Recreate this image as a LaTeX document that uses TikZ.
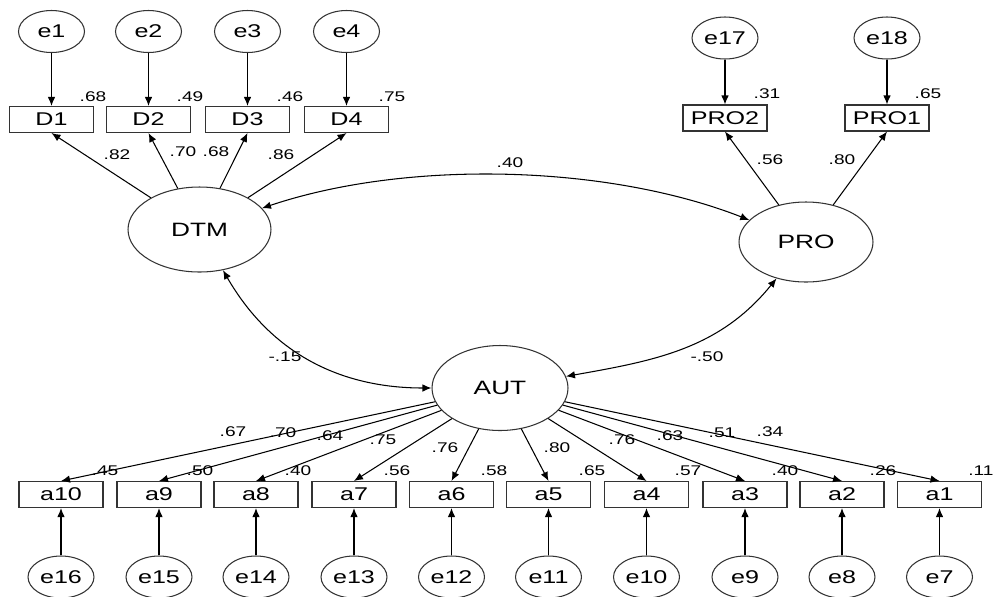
\documentclass[tikz,border=0pt]{standalone}
\usepackage{fontspec}
\setmainfont{Liberation Sans}[FakeStretch=1.36]
\usetikzlibrary{shapes.geometric,arrows.meta}

\begin{document}
\begin{tikzpicture}[x=0.02cm,y=0.02cm,->,>={Latex[length=1.8mm,width=1.5mm]},line width=0.6pt,
	err/.style={draw=black!80,ellipse,inner sep=0pt,minimum width=1.32cm,minimum height=0.84cm,font=\fontsize{10.5}{12}\selectfont},
	obs/.style={draw=black!80,rectangle,inner sep=0pt,minimum width=1.68cm,minimum height=0.52cm,font=\fontsize{10.5}{12}\selectfont},
	lat/.style={draw=black!80,ellipse,inner sep=0pt,font=\fontsize{11}{13}\selectfont},
	num/.style={inner sep=0pt,font=\fontsize{8}{9}\selectfont}]
		\useasboundingbox (0,0) rectangle (994,-596);
		\node[lat,minimum width=2.86cm,minimum height=1.7cm] (DTM) at (199.5,-229.5) {DTM};
		\node[lat,minimum width=2.68cm,minimum height=1.6cm] (PRO) at (806,-242) {PRO};
		\node[lat,minimum width=2.72cm,minimum height=1.7cm] (AUT) at (500,-388) {AUT};
		\node[err] (e1) at (51.5,-31.5) {e1};
		\node[err] (e2) at (148.5,-31.5) {e2};
		\node[err] (e3) at (247.5,-31.5) {e3};
		\node[err] (e4) at (346.5,-31.5) {e4};
		\node[obs] (D1) at (51.5,-119.5) {D1};
		\node[obs] (D2) at (148.5,-119.5) {D2};
		\node[obs] (D3) at (247.5,-119.5) {D3};
		\node[obs] (D4) at (346.5,-119.5) {D4};
		\node[err] (e17) at (725,-38) {e17};
		\node[err] (e18) at (887,-38) {e18};
		\node[obs] (PRO2) at (725,-118) {PRO2};
		\node[obs] (PRO1) at (887,-118) {PRO1};
		\node[obs] (a10) at (61,-494.5) {a10};
		\node[obs] (a9) at (159,-494.5) {a9};
		\node[obs] (a8) at (256,-494.5) {a8};
		\node[obs] (a7) at (354,-494.5) {a7};
		\node[obs] (a6) at (451.5,-494.5) {a6};
		\node[obs] (a5) at (548.5,-494.5) {a5};
		\node[obs] (a4) at (646.5,-494.5) {a4};
		\node[obs] (a3) at (745,-494.5) {a3};
		\node[obs] (a2) at (842,-494.5) {a2};
		\node[obs] (a1) at (939.5,-494.5) {a1};
		\node[err] (e16) at (61,-577) {e16};
		\node[err] (e15) at (159,-577) {e15};
		\node[err] (e14) at (256,-577) {e14};
		\node[err] (e13) at (354,-577) {e13};
		\node[err] (e12) at (451.5,-577) {e12};
		\node[err] (e11) at (548.5,-577) {e11};
		\node[err] (e10) at (646.5,-577) {e10};
		\node[err] (e9) at (745,-577) {e9};
		\node[err] (e8) at (842,-577) {e8};
		\node[err] (e7) at (939.5,-577) {e7};
		\draw (e1) -- (D1);
		\draw (e2) -- (D2);
		\draw (e3) -- (D3);
		\draw (e4) -- (D4);
		\draw (DTM) -- (D1.south);
		\draw (DTM) -- (D2.south);
		\draw (DTM) -- (D3.south);
		\draw (DTM) -- (D4.south);
		\draw (e17) -- (PRO2);
		\draw (e18) -- (PRO1);
		\draw (PRO) -- (PRO2.south);
		\draw (PRO) -- (PRO1.south);
		\draw (AUT) -- (a10.north);
		\draw (AUT) -- (a9.north);
		\draw (AUT) -- (a8.north);
		\draw (AUT) -- (a7.north);
		\draw (AUT) -- (a6.north);
		\draw (AUT) -- (a5.north);
		\draw (AUT) -- (a4.north);
		\draw (AUT) -- (a3.north);
		\draw (AUT) -- (a2.north);
		\draw (AUT) -- (a1.north);
		\draw (e16) -- (a10);
		\draw (e15) -- (a9);
		\draw (e14) -- (a8);
		\draw (e13) -- (a7);
		\draw (e12) -- (a6);
		\draw (e11) -- (a5);
		\draw (e10) -- (a4);
		\draw (e9) -- (a3);
		\draw (e8) -- (a2);
		\draw (e7) -- (a1);
		\draw[<->] (DTM) to[bend left=20,looseness=0.8] (PRO);
		\draw[<->] (DTM) to[out=-60,in=180] (AUT);
		\draw[<->] (PRO) to[out=-129,in=10] (AUT);
		\node[num] (rD1) at (93,-97) {.68};
		\node[num] (rD2) at (190,-97) {.49};
		\node[num] (rD3) at (290,-97) {.46};
		\node[num] (rD4) at (392,-97) {.75};
		\node[num] (lD1) at (117,-155) {.82};
		\node[num] (lD2) at (183,-152) {.70};
		\node[num] (lD3) at (216,-152) {.68};
		\node[num] (lD4) at (281,-155) {.86};
		\node[num] (rP2) at (767,-94) {.31};
		\node[num] (rP1) at (928,-94) {.65};
		\node[num] (lP2) at (770,-160) {.56};
		\node[num] (lP1) at (842,-160) {.80};
		\node[num] (cDP) at (510,-163) {.40};
		\node[num] (cDA) at (285,-357) {-.15};
		\node[num] (cPA) at (707,-357) {-.50};
		\node[num] (la10) at (233,-432) {.67};
		\node[num] (la9) at (283,-433) {.70};
		\node[num] (la8) at (330,-436) {.64};
		\node[num] (la7) at (383,-440) {.75};
		\node[num] (la6) at (445,-448) {.76};
		\node[num] (la5) at (557,-448) {.80};
		\node[num] (la4) at (622,-440) {.76};
		\node[num] (la3) at (670,-436) {.63};
		\node[num] (la2) at (722,-433) {.51};
		\node[num] (la1) at (770,-432) {.34};
		\node[num] (ra10) at (105,-471) {.45};
		\node[num] (ra9) at (200,-471) {.50};
		\node[num] (ra8) at (298,-471) {.40};
		\node[num] (ra7) at (397,-471) {.56};
		\node[num] (ra6) at (494,-471) {.58};
		\node[num] (ra5) at (592,-471) {.65};
		\node[num] (ra4) at (688,-471) {.57};
		\node[num] (ra3) at (785,-471) {.40};
		\node[num] (ra2) at (883,-471) {.26};
		\node[num] (ra1) at (981,-471) {.11};
	\end{tikzpicture}
\end{document}
